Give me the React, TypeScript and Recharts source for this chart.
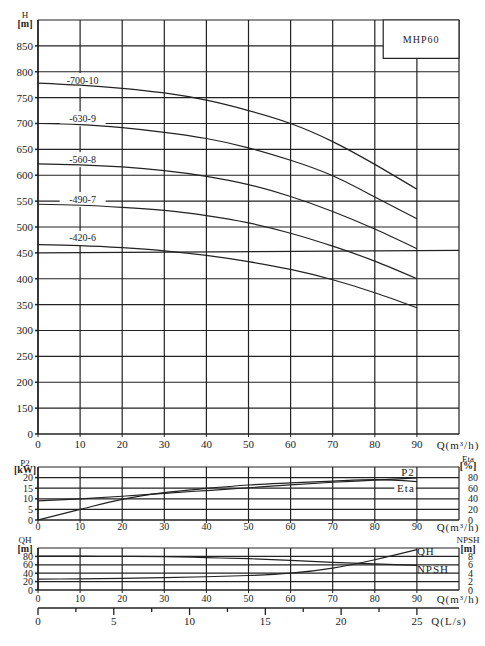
import {
  CartesianGrid,
  Line,
  LineChart,
  ReferenceArea,
  ReferenceDot,
  XAxis,
  YAxis,
} from 'recharts';

const FONT = '"Liberation Serif", "DejaVu Serif", serif';
const INK = '#222';

// flow points, m3/h
const flow = [0, 10, 20, 30, 40, 50, 60, 70, 80, 90];
const flowTicks = [0, 10, 20, 30, 40, 50, 60, 70, 80, 90];
const flowGrid = [0, 10, 20, 30, 40, 50, 60, 70, 80, 90, 100];

// head curves per stage count, m
const head700 = [778, 774, 768, 759, 745, 725, 700, 665, 621, 573];
const head630 = [700, 698, 692, 683, 671, 653, 629, 599, 558, 516];
const head560 = [622, 620, 616, 609, 598, 582, 559, 530, 496, 458];
const head490 = [544, 542, 538, 532, 522, 508, 488, 463, 434, 400];
const head420 = [466, 464, 460, 454, 445, 433, 418, 398, 373, 344];
const levelLine = [
  { q: 0, h: 450 },
  { q: 100, h: 455 },
];
const curveTags = [
  { text: '-700-10', q: 10.6, h: 784 },
  { text: '-630-9', q: 10.6, h: 710 },
  { text: '-560-8', q: 10.6, h: 631 },
  { text: '-490-7', q: 10.6, h: 554 },
  { text: '-420-6', q: 10.6, h: 479 },
];
const headTicks = [100, 150, 200, 250, 300, 350, 400, 450, 500, 550, 600, 650, 700, 750, 800, 850];
const headGrid = [100, 150, 200, 250, 300, 350, 400, 500, 550, 600, 650, 700, 750, 800, 850, 900];

// power and efficiency
const p2 = [9.0, 10.0, 11.2, 12.6, 13.9, 15.2, 16.6, 17.8, 18.8, 19.9];
const eta = [0, 20, 39, 51.5, 59.5, 66, 70, 73.5, 76, 72.5];
const p2Ticks = [0, 5, 10, 15, 20];
const p2Grid = [0, 5, 10, 15, 20, 25];
const etaTicks = [0, 20, 40, 60, 80];

// QH / NPSH
const qh = [26, 26.5, 27.5, 29.5, 31.5, 34.5, 40, 52, 72, 96];
const npsh = [8.1, 8.05, 8.0, 7.95, 7.7, 7.45, 7.05, 6.6, 6.2, 5.85];
const qhTicks = [0, 20, 40, 60, 80];
const qhGrid = [0, 20, 40, 60, 80, 100];
const npshTicks = [0, 2, 4, 6, 8];
const lsTicks = [0, 2.5, 5, 7.5, 10, 12.5, 15, 17.5, 20, 22.5, 25];

const headData = flow.map((q, i) => ({
  q,
  h700: head700[i],
  h630: head630[i],
  h560: head560[i],
  h490: head490[i],
  h420: head420[i],
}));
const powerData = flow.map((q, i) => ({ q, p2: p2[i], eta: eta[i] }));
const npshData = flow.map((q, i) => ({ q, ls: q / 3.6, qh: qh[i], npsh: npsh[i] }));

const tickStyle = { fontSize: 11, fill: INK, fontFamily: FONT };
const smallTick = { fontSize: 10, fill: INK, fontFamily: FONT };

function CurveTag(props: any) {
  const { cx, cy, text } = props;
  return (
    <g>
      <rect x={cx - 23} y={cy - 7} width={46} height={15} fill="#fff" />
      <text x={cx} y={cy + 3.5} textAnchor="middle" fontSize={10} fill={INK} fontFamily={FONT}>
        {text}
      </text>
    </g>
  );
}

function SideTag(props: any) {
  const { cx, cy, text, anchor, bg } = props;
  const w = text.length * 6.5;
  const x0 = anchor === 'end' ? cx - w : cx;
  return (
    <g>
      {bg && <rect x={x0 - 1} y={cy - 6} width={w + 2} height={12} fill="#fff" />}
      <text
        x={cx}
        y={cy + 3.5}
        textAnchor={anchor}
        fontSize={11}
        fill={INK}
        fontFamily={FONT}
        letterSpacing={1}
      >
        {text}
      </text>
    </g>
  );
}

// two-line unit caption above a y axis
const unitCaption = (top: string, bottom: string, cx: number, dy1: number, dy2: number) =>
  (props: any) => {
    const { viewBox } = props;
    const x = viewBox.x + cx;
    return (
      <g fontFamily={FONT} fill={INK}>
        <text x={x} y={viewBox.y + dy1} textAnchor="middle" fontSize={9}>
          {top}
        </text>
        <text x={x} y={viewBox.y + dy2} textAnchor="middle" fontSize={10} fontWeight="bold">
          {bottom}
        </text>
      </g>
    );
  };

const qCaption = (text: string, dx: number, dy: number) => (props: any) => {
  const { viewBox } = props;
  return (
    <text
      x={viewBox.x + viewBox.width + dx}
      y={viewBox.y + dy}
      textAnchor="middle"
      fontSize={11}
      fill={INK}
      fontFamily={FONT}
      letterSpacing={1}
    >
      {text}
    </text>
  );
};

function LsTick(props: any) {
  const { x, y, payload } = props;
  const v = payload.value;
  const major = v % 5 === 0;
  return (
    <g>
      <line x1={x} x2={x} y1={y} y2={y + (major ? 7 : 4)} stroke={INK} strokeWidth={1.3} />
      {major && (
        <text x={x} y={y + 17} textAnchor="middle" fontSize={11} fill={INK} fontFamily={FONT}>
          {v}
        </text>
      )}
    </g>
  );
}

const curveProps = {
  type: 'natural' as const,
  stroke: INK,
  strokeWidth: 1.2,
  dot: false,
  activeDot: false,
  isAnimationActive: false,
};

export default function App() {
  return (
    <div
      style={{
        position: 'absolute',
        left: 0,
        top: 0,
        width: 485,
        height: 646,
        background: '#fff',
        fontFamily: FONT,
      }}
    >
      <div style={{ position: 'absolute', left: 0, top: 0 }}>
        <LineChart width={485} height={460} data={headData} margin={{ top: 20, right: 26, bottom: 0, left: 0 }}>
          <CartesianGrid
            stroke={INK}
            strokeWidth={1.2}
            horizontalValues={headGrid}
            verticalValues={flowGrid}
          />
          <XAxis
            dataKey="q"
            type="number"
            domain={[0, 100]}
            ticks={flowTicks}
            interval={0}
            height={26}
            tickSize={3}
            tickMargin={3}
            tick={tickStyle}
            stroke={INK}
            label={{ content: qCaption('Q(m³/h)', -1, 15) }}
          />
          <YAxis
            type="number"
            domain={[100, 900]}
            ticks={headTicks}
            interval={0}
            width={38}
            tickSize={3}
            tickMargin={2}
            tick={tickStyle}
            stroke={INK}
            strokeWidth={1.5}
            tickFormatter={(v: number) => (v === 100 ? '0' : String(v))}
            label={{ content: unitCaption('H', '[m]', 25, -2, 7) }}
          />
          <ReferenceArea
            x1={82}
            x2={100}
            y1={826}
            y2={900}
            fill="#fff"
            fillOpacity={1}
            stroke={INK}
            strokeWidth={1.2}
            label={{ value: 'MHP60', position: 'center', fontSize: 10, fill: INK, fontFamily: FONT, letterSpacing: 1 }}
          />
          {curveTags.map((t) => (
            <ReferenceDot
              key={t.text}
              x={t.q}
              y={t.h}
              r={0}
              zIndex={50}
              shape={(p: any) => <CurveTag {...p} text={t.text} />}
            />
          ))}
          <Line {...curveProps} data={levelLine} dataKey="h" type="linear" />
          <Line {...curveProps} dataKey="h700" />
          <Line {...curveProps} dataKey="h630" />
          <Line {...curveProps} dataKey="h560" />
          <Line {...curveProps} dataKey="h490" />
          <Line {...curveProps} dataKey="h420" />
        </LineChart>
      </div>

      <div style={{ position: 'absolute', left: 0, top: 446 }}>
        <LineChart width={485} height={90} data={powerData} margin={{ top: 21, right: 0, bottom: 0, left: 0 }}>
          <CartesianGrid stroke={INK} strokeWidth={1.2} horizontalValues={p2Grid} verticalValues={flowGrid} />
          <XAxis
            dataKey="q"
            type="number"
            domain={[0, 100]}
            ticks={flowTicks}
            interval={0}
            height={16}
            tickSize={3}
            tickMargin={0}
            tick={smallTick}
            stroke={INK}
            label={{ content: qCaption('Q(m³/h)', -1, 11) }}
          />
          <YAxis
            type="number"
            domain={[0, 25]}
            ticks={p2Ticks}
            interval={0}
            width={38}
            tickSize={3}
            tickMargin={2}
            tick={smallTick}
            stroke={INK}
            strokeWidth={1.5}
            label={{ content: unitCaption('P2', '[kW]', 25, -1, 6) }}
          />
          <YAxis
            yAxisId="eta"
            orientation="right"
            type="number"
            domain={[0, 100]}
            ticks={etaTicks}
            interval={0}
            width={26}
            tickLine={false}
            axisLine={false}
            tickMargin={3}
            tick={{ ...smallTick, textAnchor: 'start' }}
            label={{ content: unitCaption('Eta', '[%]', 9, -5, 2) }}
          />
          <ReferenceDot
            x={89.5}
            y={22.4}
            r={0}
            zIndex={50}
            shape={(p: any) => <SideTag {...p} text="P2" anchor="end" />}
          />
          <ReferenceDot
            x={89.5}
            y={15}
            r={0}
            zIndex={50}
            shape={(p: any) => <SideTag {...p} text="Eta" anchor="end" bg />}
          />
          <Line {...curveProps} dataKey="p2" type="monotone" />
          <Line {...curveProps} dataKey="eta" yAxisId="eta" type="monotone" />
        </LineChart>
      </div>

      <div style={{ position: 'absolute', left: 0, top: 527 }}>
        <LineChart width={485} height={111} data={npshData} margin={{ top: 21, right: 0, bottom: 0, left: 0 }}>
          <CartesianGrid stroke={INK} strokeWidth={1.2} horizontalValues={qhGrid} verticalValues={flowGrid} />
          <XAxis
            dataKey="q"
            type="number"
            domain={[0, 100]}
            ticks={flowTicks}
            interval={0}
            height={18}
            tickSize={3}
            tickMargin={2}
            tick={smallTick}
            stroke={INK}
            label={{ content: qCaption('Q(m³/h)', -1, 13) }}
          />
          <XAxis
            xAxisId="ls"
            dataKey="ls"
            type="number"
            domain={[0, 100 / 3.6]}
            allowDataOverflow
            ticks={lsTicks}
            interval={0}
            height={30}
            tickSize={0}
            tickMargin={0}
            tick={<LsTick />}
            stroke={INK}
            strokeWidth={1.3}
            label={{ content: qCaption('Q(L/s)', -10, 17) }}
          />
          <YAxis
            type="number"
            domain={[0, 100]}
            ticks={qhTicks}
            interval={0}
            width={38}
            tickSize={3}
            tickMargin={2}
            tick={smallTick}
            stroke={INK}
            strokeWidth={1.5}
            label={{ content: unitCaption('QH', '[m]', 25, -5, 4) }}
          />
          <YAxis
            yAxisId="npsh"
            orientation="right"
            type="number"
            domain={[0, 10]}
            ticks={npshTicks}
            interval={0}
            width={26}
            tickLine={false}
            axisLine={false}
            tickMargin={3}
            tick={{ ...smallTick, textAnchor: 'start' }}
            label={{ content: unitCaption('NPSH', '[m]', 9, -5, 4) }}
          />
          <ReferenceDot
            x={90}
            y={92}
            r={0}
            zIndex={50}
            shape={(p: any) => <SideTag {...p} text="QH" anchor="start" />}
          />
          <ReferenceDot
            x={90}
            y={50}
            r={0}
            zIndex={50}
            shape={(p: any) => <SideTag {...p} text="NPSH" anchor="start" />}
          />
          <Line {...curveProps} dataKey="qh" />
          <Line {...curveProps} dataKey="npsh" yAxisId="npsh" />
        </LineChart>
      </div>
    </div>
  );
}
